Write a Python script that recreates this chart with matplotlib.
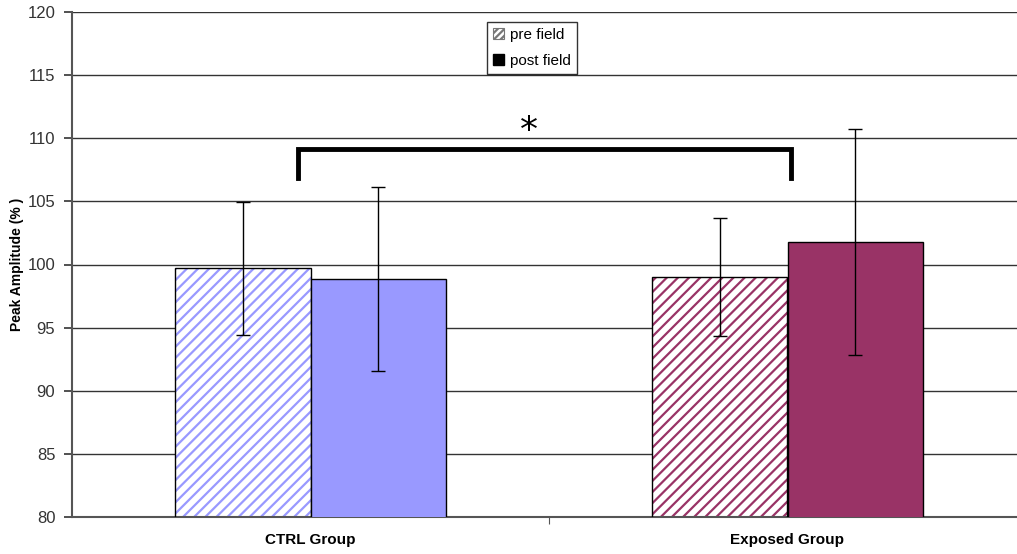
import matplotlib.pyplot as plt
import matplotlib.patches as mpatches
import numpy as np

groups = ["CTRL Group", "Exposed Group"]
pre_vals = [99.7, 99.0]
post_vals = [98.85, 101.8]
pre_err = [5.25, 4.65]
post_err = [7.25, 8.95]
colors = ["#9999FF", "#993366"]
yticks = [80, 85, 90, 95, 100, 105, 110, 115, 120]

plt.rcParams['font.family'] = ['Liberation Sans', 'DejaVu Sans']
plt.rcParams['hatch.linewidth'] = 1.6

fig = plt.figure(figsize=(10.17, 5.54), dpi=100)
ax = fig.add_axes([72/1017, 1-517/554, 954/1017, 505/554])

x = np.arange(len(groups))
w = 0.284

# pre field: hatched bars
for i in x:
    ax.bar(x[i] - w/2, pre_vals[i], w, bottom=0, color="white", edgecolor=colors[i],
           hatch="///", linewidth=0, zorder=2)
    ax.bar(x[i] - w/2, pre_vals[i], w, fill=False, edgecolor="black", linewidth=1, zorder=3)
    ax.bar(x[i] + w/2, post_vals[i], w, color=colors[i], edgecolor="black", linewidth=1, zorder=3)

ax.errorbar(x - w/2, pre_vals, yerr=pre_err, fmt="none", ecolor="black", elinewidth=1,
            capsize=5, capthick=1, zorder=4)
ax.errorbar(x + w/2, post_vals, yerr=post_err, fmt="none", ecolor="black", elinewidth=1,
            capsize=5, capthick=1, zorder=4)

# significance bracket
ax.plot([-0.027, -0.027, 1.007, 1.007], [106.85, 109.15, 109.15, 106.85], color="black",
        lw=3.5, solid_joinstyle="miter", zorder=5)
ax.text(0.458, 110.6, "*", fontsize=26, ha="center", va="center", family="DejaVu Sans")

ax.set_xlim(-0.5, 1.5)
ax.set_ylim(80, 120)
ax.set_yticks(yticks)
ax.tick_params(axis="y", labelsize=12, colors="#333333", length=6, width=1.2, direction="out", pad=6)
ax.yaxis.grid(True, color="#333333", linewidth=1)
ax.set_axisbelow(True)
ax.set_xticks([0.5])
ax.set_xticklabels([""])
ax.tick_params(axis="x", length=5, direction="out", color="#555555")
for i in x:
    ax.text(i, 78.2, groups[i], ha="center", va="center", fontsize=11, fontweight="bold")
ax.set_ylabel("Peak Amplitude (% )", fontsize=10, fontweight="bold")
ax.yaxis.set_label_coords(-48/954, 0.5)

for s in ["top", "right"]:
    ax.spines[s].set_visible(False)
ax.spines["left"].set_color("#555555")
ax.spines["left"].set_linewidth(1.5)
ax.spines["bottom"].set_color("#555555")
ax.spines["bottom"].set_linewidth(1.5)

h1 = mpatches.Patch(facecolor="white", edgecolor="#777777", hatch="/////", linewidth=0.8)
h2 = mpatches.Patch(facecolor="black", edgecolor="black")
leg = ax.legend([h1, h2], ["pre field", "post field"], loc="upper left",
                bbox_to_anchor=(415/954, 1 - 10/505), borderaxespad=0, fontsize=11,
                frameon=True, fancybox=False, edgecolor="black", handlelength=0.7,
                handleheight=0.7, handletextpad=0.4, borderpad=0.4, labelspacing=0.75)
leg.get_frame().set_linewidth(1)

fig.savefig("out.png", dpi=100)
